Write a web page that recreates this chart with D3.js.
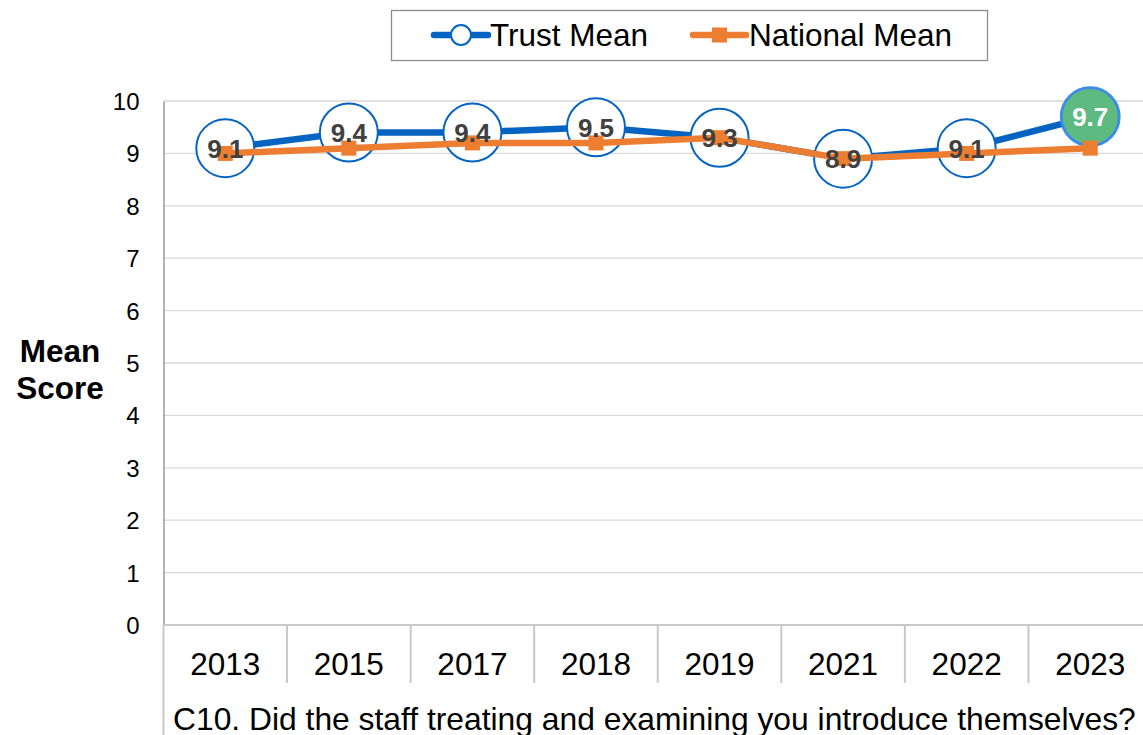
<!DOCTYPE html>
<html><head><meta charset="utf-8">
<script src="https://cdn.jsdelivr.net/npm/d3@7"></script>
<style>body{margin:0;background:#fff;overflow:hidden}svg{display:block;font-family:Arial,"Liberation Sans",sans-serif}</style>
</head><body>
<svg id="c" width="1143" height="735"></svg>
<script>
const years = ["2013","2015","2017","2018","2019","2021","2022","2023"];
const trustMean = [9.1, 9.4, 9.4, 9.5, 9.3, 8.9, 9.1, 9.7];
const nationalMean = [9.0, 9.1, 9.2, 9.2, 9.3, 8.9, 9.0, 9.1];
const yTicks = [0,1,2,3,4,5,6,7,8,9,10];
const seriesNames = ["Trust Mean", "National Mean"];
const questionText = "C10. Did the staff treating and examining you introduce themselves?";

(function(){
const svg = d3.select("#c");
const pL = 163.5, pR = 1152, pT = 101, pB = 625;
const x = d3.scaleBand().domain(years).range([pL, pR]);
const y = d3.scaleLinear().domain([0, 10]).range([pB, pT]);
const cx = d => x(d) + x.bandwidth()/2;

svg.append("g").selectAll("line").data(yTicks.filter(t => t > 0)).join("line")
  .attr("x1", pL).attr("x2", 1143).attr("y1", d => y(d)).attr("y2", d => y(d))
  .attr("stroke", "#d9d9d9").attr("stroke-width", 1.3);

const yAxis = d3.axisLeft(y).tickValues(yTicks).tickSize(0).tickPadding(24).tickFormat(d3.format("d"));
const ga = svg.append("g").attr("transform", `translate(${pL},0)`).call(yAxis);
ga.select(".domain").attr("stroke", "#8c8c8c").attr("stroke-width", 1.3);
ga.selectAll("text").attr("font-size", 24).attr("fill", "#000").attr("font-family", "Arial, 'Liberation Sans', sans-serif").attr("dy", "0.35em");

svg.append("line").attr("x1", pL).attr("x2", 1143).attr("y1", pB).attr("y2", pB)
  .attr("stroke", "#c8c8c8").attr("stroke-width", 2);
svg.append("line").attr("x1", pL).attr("x2", pL).attr("y1", pB).attr("y2", 735)
  .attr("stroke", "#c8c8c8").attr("stroke-width", 2);
svg.append("g").selectAll("line").data(years.slice(1)).join("line")
  .attr("x1", d => x(d)).attr("x2", d => x(d)).attr("y1", pB).attr("y2", 683)
  .attr("stroke", "#c8c8c8").attr("stroke-width", 2);
svg.append("g").selectAll("text").data(years).join("text")
  .attr("x", d => cx(d)).attr("y", 675).attr("text-anchor", "middle")
  .attr("font-size", 31.5).attr("fill", "#000").text(d => d);
svg.append("text").attr("x", 173).attr("y", 730).attr("font-size", 31.8).attr("fill", "#000").text(questionText);

svg.append("text").attr("x", 60).attr("y", 362).attr("text-anchor", "middle").attr("font-size", 31.5).attr("font-weight", "bold").text("Mean");
svg.append("text").attr("x", 60).attr("y", 399).attr("text-anchor", "middle").attr("font-size", 31.5).attr("font-weight", "bold").text("Score");

const blue = "#0563C1", orange = "#ED7D31";
const line = d3.line().x((d,i) => cx(years[i])).y(d => y(d));

svg.append("path").datum(trustMean).attr("d", line).attr("fill", "none")
  .attr("stroke", blue).attr("stroke-width", 6.5).attr("stroke-linejoin", "round");

const r = 29;
const last = trustMean.length - 1;
svg.append("g").selectAll("circle").data(trustMean).join("circle")
  .attr("cx", (d,i) => cx(years[i])).attr("cy", d => y(d)).attr("r", r)
  .attr("fill", (d,i) => i === last ? "#5DBA81" : "#fff")
  .attr("stroke", (d,i) => i === last ? "#3B8BEB" : blue)
  .attr("stroke-width", (d,i) => i === last ? 2.8 : 2);

svg.append("path").datum(nationalMean).attr("d", line).attr("fill", "none")
  .attr("stroke", orange).attr("stroke-width", 6.5).attr("stroke-linejoin", "round");
svg.append("g").selectAll("rect").data(nationalMean).join("rect")
  .attr("x", (d,i) => cx(years[i]) - 7.5).attr("y", d => y(d) - 7.5)
  .attr("width", 15).attr("height", 15).attr("fill", orange);

svg.append("g").selectAll("text").data(trustMean).join("text")
  .attr("x", (d,i) => cx(years[i])).attr("y", d => y(d)).attr("dy", "0.36em")
  .attr("text-anchor", "middle").attr("font-size", 26).attr("font-weight", "bold")
  .attr("fill", (d,i) => i === last ? "#fff" : "#404040")
  .text(d => d3.format(".1f")(d));

const lg = svg.append("g");
lg.append("rect").attr("x", 391.5).attr("y", 10.5).attr("width", 596).attr("height", 50)
  .attr("fill", "#fff").attr("stroke", "#8c8c8c").attr("stroke-width", 1.3);
lg.append("line").attr("x1", 434).attr("x2", 488).attr("y1", 35).attr("y2", 35)
  .attr("stroke", blue).attr("stroke-width", 6.5).attr("stroke-linecap", "round");
lg.append("circle").attr("cx", 461).attr("cy", 35).attr("r", 10).attr("fill", "#fff").attr("stroke", blue).attr("stroke-width", 2);
lg.append("text").attr("x", 490).attr("y", 46).attr("font-size", 31.5).attr("fill", "#000").text(seriesNames[0]);
lg.append("line").attr("x1", 693).attr("x2", 746).attr("y1", 35).attr("y2", 35)
  .attr("stroke", orange).attr("stroke-width", 6.5).attr("stroke-linecap", "round");
lg.append("rect").attr("x", 712).attr("y", 27.5).attr("width", 15).attr("height", 15).attr("fill", orange);
lg.append("text").attr("x", 749).attr("y", 46).attr("font-size", 31.5).attr("fill", "#000").text(seriesNames[1]);
})();
</script>
</body></html>
